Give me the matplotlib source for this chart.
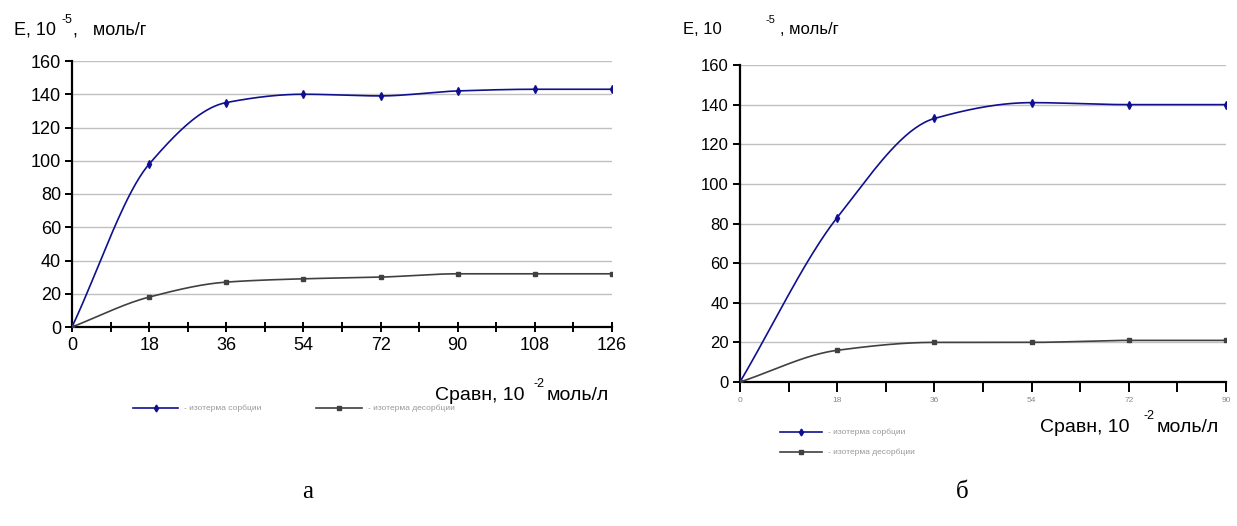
import numpy as np
import matplotlib
matplotlib.use("Agg")
import matplotlib.pyplot as plt
from matplotlib.lines import Line2D

plt.rcParams['font.family'] = ['Liberation Sans', 'DejaVu Sans']

# Panel a
a_x = [0, 18, 36, 54, 72, 90, 108, 126]
a_sorption = [0, 98, 135, 140, 139, 142, 143, 143]
a_desorption = [0, 18, 27, 29, 30, 32, 32, 32]
a_xticks = [0, 18, 36, 54, 72, 90, 108, 126]

# Panel b
b_x = [0, 18, 36, 54, 72, 90]
b_sorption = [0, 83, 133, 141, 140, 140]
b_desorption = [0, 16, 20, 20, 21, 21]
b_xticks = [0, 18, 36, 54, 72, 90]

y_ticks = [0, 20, 40, 60, 80, 100, 120, 140, 160]
legend_labels = ["- изотерма сорбции", "- изотерма десорбции"]
panel_labels = ["а", "б"]

BLUE = "#10108f"
GRAY = "#404040"
W, H = 1237, 526


def smooth(xs, ys, n=40):
    """Monotone cubic (Fritsch-Carlson) curve through the data points."""
    xs = np.asarray(xs, float)
    ys = np.asarray(ys, float)
    h = np.diff(xs)
    d = np.diff(ys) / h
    m = np.zeros_like(ys)
    m[0], m[-1] = d[0], d[-1]
    for i in range(1, len(xs) - 1):
        if d[i - 1] * d[i] <= 0:
            m[i] = 0
        else:
            w1 = 2 * h[i] + h[i - 1]
            w2 = h[i] + 2 * h[i - 1]
            m[i] = (w1 + w2) / (w1 / d[i - 1] + w2 / d[i])
    px, py = [], []
    for i in range(len(xs) - 1):
        t = np.linspace(0, 1, n, endpoint=(i == len(xs) - 2))
        h00 = 2 * t**3 - 3 * t**2 + 1
        h10 = t**3 - 2 * t**2 + t
        h01 = -2 * t**3 + 3 * t**2
        h11 = t**3 - t**2
        px.extend(xs[i] + t * h[i])
        py.extend(h00 * ys[i] + h10 * h[i] * m[i] + h01 * ys[i + 1] + h11 * h[i] * m[i + 1])
    return np.array(px), np.array(py)


def ax_rect(l, r, t, b):
    return [l / W, 1 - b / H, (r - l) / W, (b - t) / H]


fig = plt.figure(figsize=(W / 100, H / 100), dpi=100)


def panel(rect, xs, s, d, xticks, xmax, tick_fs, xtick_fs, xtick_color, xdir):
    ax = fig.add_axes(rect)
    sx, sy = smooth(xs, s)
    dx, dy = smooth(xs, d)
    ax.plot(sx, sy, color=BLUE, lw=1.2, zorder=3)
    ax.plot(dx, dy, color=GRAY, lw=1.2, zorder=3)
    ax.plot(xs, s, ls="none", marker="d", ms=4, color=BLUE, zorder=4)
    ax.plot(xs, d, ls="none", marker="s", ms=3.5, color=GRAY, zorder=4)
    ax.set_xlim(0, xmax)
    ax.set_ylim(0, 160)
    ax.set_yticks(y_ticks)
    ax.set_xticks(xticks)
    ax.set_xticks([v + 9 for v in xticks[:-1]], minor=True)
    ax.yaxis.grid(True, color="#c0c0c0", lw=1)
    ax.set_axisbelow(True)
    for sp in ["top", "right"]:
        ax.spines[sp].set_visible(False)
    for sp in ["left", "bottom"]:
        ax.spines[sp].set_color("black")
        ax.spines[sp].set_linewidth(1.6)
    ax.tick_params(axis="y", labelsize=tick_fs, length=5, width=1.4, pad=3)
    ax.tick_params(axis="x", which="both", direction=xdir, length=7, width=1.4,
                   labelsize=xtick_fs, labelcolor=xtick_color, pad=4)
    return ax


ax1 = panel(ax_rect(72, 612, 61, 327), a_x, a_sorption, a_desorption, a_xticks,
            126, 13, 13, "black", "inout")
ax2 = panel(ax_rect(740, 1226, 65, 382), b_x, b_sorption, b_desorption, b_xticks,
            90, 12, 6, "#888888", "out")


def ptext(x, y, s, **kw):
    fig.text(x / W, 1 - y / H, s, **kw)


# Axis titles
ptext(14, 30, "E, 10", fontsize=13, va="center")
ptext(62, 20, "-5", fontsize=9, va="center")
ptext(73, 30, ",   моль/г", fontsize=13, va="center")
ptext(435, 395, "Сравн, 10", fontsize=14, va="center")
ptext(533, 384, "-2", fontsize=9, va="center")
ptext(547, 395, "моль/л", fontsize=14, va="center")

ptext(683, 30, "E, 10", fontsize=12, va="center")
ptext(766, 20, "-5", fontsize=8, va="center")
ptext(780, 30, ", моль/г", fontsize=12, va="center")
ptext(1040, 427, "Сравн, 10", fontsize=14, va="center")
ptext(1143, 416, "-2", fontsize=9, va="center")
ptext(1157, 427, "моль/л", fontsize=14, va="center")

# Legends
for (x0, x1, y), col, mk, lab in [((133, 178, 408), BLUE, "d", legend_labels[0]),
                                   ((316, 362, 408), GRAY, "s", legend_labels[1]),
                                   ((780, 822, 432), BLUE, "d", legend_labels[0]),
                                   ((780, 822, 452), GRAY, "s", legend_labels[1])]:
    fig.add_artist(Line2D([x0 / W, x1 / W], [1 - y / H, 1 - y / H], color=col, lw=1.2))
    fig.add_artist(Line2D([(x0 + x1) / 2 / W], [1 - y / H], color=col, marker=mk, ms=3.5, ls="none"))
    ptext(x1 + 6, y, lab, fontsize=6, color="#999999", va="center")

# Panel letters
ptext(308, 492, panel_labels[0], fontsize=18, family="Liberation Serif", ha="center", va="center")
ptext(962, 492, panel_labels[1], fontsize=18, family="Liberation Serif", ha="center", va="center")

fig.savefig("out.png", dpi=100, facecolor="white")
